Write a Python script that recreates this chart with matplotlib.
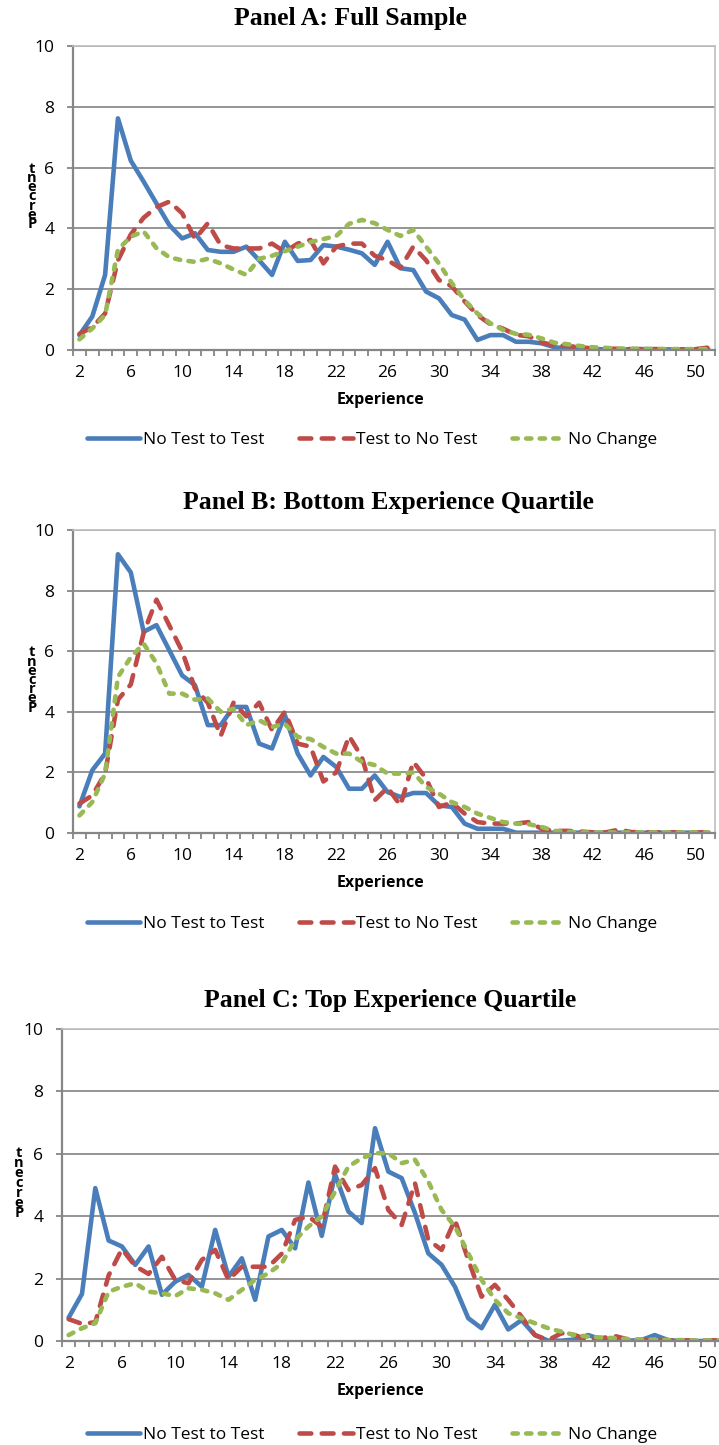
import matplotlib
matplotlib.use("Agg")
import matplotlib.pyplot as plt
from matplotlib.lines import Line2D
import numpy as np

plt.rcParams['lines.scale_dashes'] = False

# ---------------- data ----------------
experience = list(range(2, 52))
xtick_vals = list(range(2, 51, 4))
ytick_vals = [0, 2, 4, 6, 8, 10]
series_names = ["No Test to Test", "Test to No Test", "No Change"]
titles = ["Panel A: Full Sample",
          "Panel B: Bottom Experience Quartile",
          "Panel C: Top Experience Quartile"]

a_no_test_to_test = [0.49, 1.10, 2.47, 7.62, 6.23, 5.54, 4.82, 4.11, 3.67, 3.84,
                     3.29, 3.23, 3.23, 3.40, 2.95, 2.47, 3.56, 2.93, 2.96, 3.45,
                     3.40, 3.30, 3.18, 2.80, 3.56, 2.69, 2.63, 1.92, 1.70, 1.15,
                     1.00, 0.33, 0.49, 0.49, 0.27, 0.27, 0.22, 0.09, 0.05, 0.03,
                     0.03, 0.02, 0.02, 0.02, 0.03, 0.02, 0.02, 0.01, 0.01, 0.01]
a_test_to_no_test = [0.53, 0.75, 1.20, 2.95, 3.80, 4.35, 4.70, 4.88, 4.50, 3.65,
                     4.17, 3.45, 3.34, 3.34, 3.34, 3.50, 3.23, 3.50, 3.62, 2.85,
                     3.40, 3.50, 3.50, 3.10, 2.95, 2.70, 3.40, 2.95, 2.30, 2.10,
                     1.60, 1.15, 0.85, 0.70, 0.50, 0.45, 0.25, 0.15, 0.13, 0.09,
                     0.05, 0.04, 0.04, 0.03, 0.03, 0.03, 0.02, 0.02, 0.03, 0.08]
a_no_change = [0.35, 0.71, 1.15, 3.30, 3.73, 3.90, 3.35, 3.05, 2.95, 2.90,
               3.00, 2.85, 2.65, 2.47, 3.00, 3.10, 3.25, 3.40, 3.55, 3.65,
               3.75, 4.15, 4.28, 4.17, 3.95, 3.75, 3.95, 3.40, 2.85, 2.20,
               1.64, 1.20, 0.88, 0.66, 0.53, 0.50, 0.38, 0.24, 0.19, 0.13,
               0.09, 0.07, 0.05, 0.04, 0.04, 0.03, 0.03, 0.03, 0.03, 0.03]

b_no_test_to_test = [0.88, 2.07, 2.62, 9.20, 8.60, 6.64, 6.86, 6.03, 5.20, 4.88,
                     3.56, 3.56, 4.16, 4.16, 2.95, 2.79, 3.89, 2.62, 1.90, 2.51,
                     2.18, 1.46, 1.46, 1.90, 1.35, 1.19, 1.32, 1.32, 0.91, 0.86,
                     0.31, 0.14, 0.14, 0.14, 0.01, 0.01, 0.01, 0.01, 0.01, 0.01,
                     0.01, 0.01, 0.01, 0.01, 0.01, 0.01, 0.01, 0.01, 0.01, 0.01]
b_test_to_no_test = [0.97, 1.24, 1.96, 4.40, 4.90, 6.60, 7.70, 6.85, 6.00, 4.77,
                     4.30, 3.20, 4.30, 3.85, 4.30, 3.40, 4.00, 2.95, 2.85, 1.70,
                     2.00, 3.20, 2.50, 1.08, 1.50, 0.91, 2.35, 1.80, 0.86, 1.00,
                     0.64, 0.36, 0.31, 0.31, 0.31, 0.36, 0.14, 0.07, 0.07, 0.05,
                     0.02, 0.02, 0.11, 0.03, 0.02, 0.02, 0.02, 0.02, 0.02, 0.02]
b_no_change = [0.58, 1.02, 1.96, 5.15, 5.80, 6.25, 5.60, 4.60, 4.60, 4.40,
               4.44, 4.00, 4.10, 3.56, 3.72, 3.50, 3.60, 3.17, 3.10, 2.84,
               2.62, 2.62, 2.35, 2.24, 1.96, 1.96, 2.00, 1.52, 1.30, 1.02,
               0.86, 0.64, 0.50, 0.36, 0.31, 0.29, 0.20, 0.07, 0.04, 0.02,
               0.02, 0.02, 0.02, 0.02, 0.02, 0.02, 0.02, 0.02, 0.02, 0.02]

c_no_test_to_test = [0.75, 1.51, 4.90, 3.22, 3.03, 2.44, 3.03, 1.48, 1.90, 2.12,
                     1.74, 3.56, 2.06, 2.65, 1.32, 3.35, 3.56, 2.97, 5.08, 3.37,
                     5.35, 4.15, 3.78, 6.82, 5.43, 5.22, 4.10, 2.81, 2.44, 1.74,
                     0.73, 0.41, 1.16, 0.37, 0.67, 0.19, 0.01, 0.01, 0.05, 0.19,
                     0.05, 0.01, 0.01, 0.03, 0.19, 0.03, 0.00, 0.00, 0.00, 0.00]
c_test_to_no_test = [0.70, 0.55, 0.60, 2.10, 2.95, 2.40, 2.15, 2.70, 1.96, 1.85,
                     2.60, 2.92, 1.96, 2.38, 2.38, 2.38, 2.80, 3.88, 3.99, 3.67,
                     5.59, 4.84, 5.00, 5.54, 4.20, 3.72, 5.06, 3.24, 2.92, 3.88,
                     2.60, 1.42, 1.80, 1.32, 0.78, 0.19, 0.03, 0.25, 0.19, 0.03,
                     0.09, 0.16, 0.05, 0.03, 0.02, 0.02, 0.02, 0.02, 0.02, 0.02]
c_no_change = [0.19, 0.41, 0.57, 1.58, 1.74, 1.85, 1.58, 1.53, 1.44, 1.69,
               1.64, 1.53, 1.32, 1.64, 1.96, 2.17, 2.49, 3.24, 3.67, 3.99,
               4.79, 5.59, 5.86, 6.02, 6.02, 5.70, 5.81, 5.11, 4.20, 3.67,
               2.81, 1.96, 1.32, 0.89, 0.73, 0.57, 0.41, 0.30, 0.19, 0.14,
               0.11, 0.09, 0.06, 0.05, 0.04, 0.03, 0.03, 0.02, 0.02, 0.02]

panel_data = [
    (a_no_test_to_test, a_test_to_no_test, a_no_change),
    (b_no_test_to_test, b_test_to_no_test, b_no_change),
    (c_no_test_to_test, c_test_to_no_test, c_no_change),
]

# ---------------- layout / style ----------------
W, H = 719, 1445
fig = plt.figure(figsize=(W / 100, H / 100), dpi=100)

def fx(px):
    return px / W

def fy(py):
    return 1 - py / H

# (left, right, top, bottom, title_cx, ylabel_dx, ylabel_step, legend_dy)
layouts = [
    (73, 715, 46, 350, 350, 41, 9.2, 90),
    (73, 715, 530, 833, 388, 41, 9.2, 91),
    (62, 728, 1029, 1341, 390, 43, 10.0, 94),
]

SANS = "Open Sans"
colors = ["#4A7EBB", "#BE4B48", "#98B954"]
LW = 3.3
styles = [
    dict(color=colors[0], lw=LW, solid_joinstyle="round", solid_capstyle="round"),
    dict(color=colors[1], lw=LW, dashes=(8.5, 7.5), dash_capstyle="round",
         dash_joinstyle="round"),
    dict(color=colors[2], lw=LW, dashes=(3.8, 6.0), dash_capstyle="round",
         dash_joinstyle="round"),
]
grid_col = "#8C8C8C"
axis_col = "#868686"

for (data, title, lay) in zip(panel_data, titles, layouts):
    left, right, top, bottom, tcx, ydx, ystep, ldy = lay
    ax = fig.add_axes([fx(left), fy(bottom), (right - left) / W, (bottom - top) / H])
    ax.set_xlim(1.5, 51.5)
    ax.set_ylim(0, 10)

    ax.grid(axis="y", color=grid_col, lw=1.3)
    ax.set_axisbelow(True)

    for vals, st in zip(data, styles):
        ax.plot(experience, vals, **st)

    ax.set_yticks(ytick_vals)
    ax.set_yticklabels([str(v) for v in ytick_vals], fontsize=12.5, family=SANS)
    ax.tick_params(axis="y", direction="out", length=4.5, width=1.3,
                   color=axis_col, pad=9)

    ax.set_xticks(xtick_vals)
    ax.set_xticklabels([str(v) for v in xtick_vals], fontsize=12.5, family=SANS)
    ax.set_xticks(np.arange(1.5, 52.0, 1.0), minor=True)
    ax.tick_params(axis="x", which="major", length=0, pad=11)
    ax.tick_params(axis="x", which="minor", direction="out", length=4.5,
                   width=1.3, color=axis_col)

    for side in ("left", "bottom"):
        ax.spines[side].set_color(axis_col)
        ax.spines[side].set_linewidth(1.6)
    for side in ("top", "right"):
        ax.spines[side].set_color("#BFBFBF")
        ax.spines[side].set_linewidth(1.2)

    # title
    fig.text(fx(tcx), fy(top - 28), title, ha="center", va="center",
             family="Liberation Serif", weight="bold", fontsize=18.5)

    # x-axis title
    fig.text(fx(380), fy(bottom + 50), "Experience", ha="center", va="center",
             family=SANS, weight="bold", fontsize=11.5)

    # stacked y-axis title "Percent"
    ycenter = bottom - 5.05 * (bottom - top) / 10.0
    word = "Percent"
    n = len(word)
    for i, ch in enumerate(word):
        ypos = ycenter + (n - 1) / 2 * ystep - i * ystep
        fig.text(fx(left - ydx), fy(ypos), ch, ha="center", va="center",
                 family=SANS, weight="bold", fontsize=10.5)

    # legend
    handles = [Line2D([], [], **st) for st in styles]
    fig.legend(handles, series_names, loc="center",
               bbox_to_anchor=(fx(372), fy(bottom + ldy)), ncol=3, frameon=False,
               handlelength=3.1, handletextpad=0.15, columnspacing=2.0,
               prop=dict(family=SANS, size=12.5))

fig.savefig("out.png", dpi=100)
